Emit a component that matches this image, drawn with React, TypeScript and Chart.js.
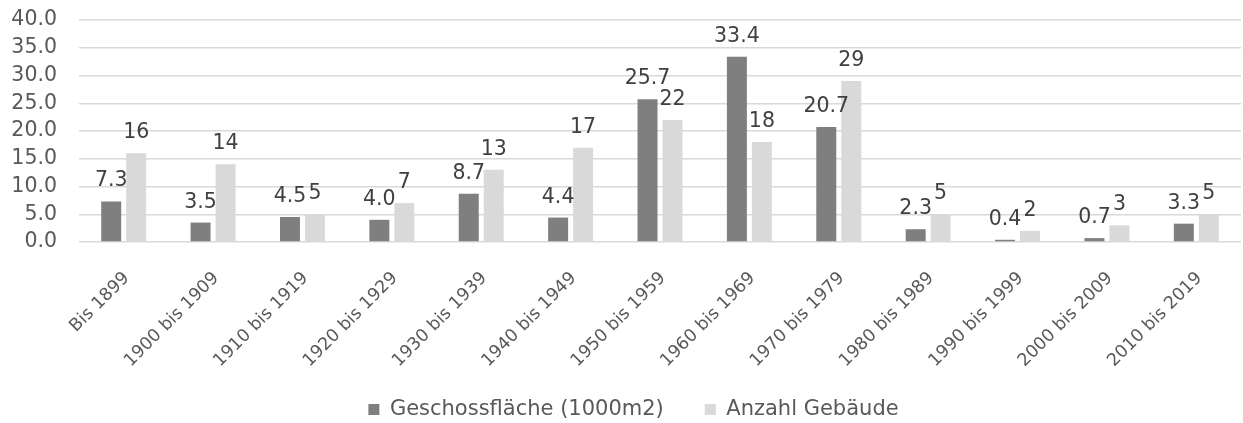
import React, { useEffect, useRef } from "react";
import { Chart, registerables } from "chart.js";

Chart.register(...registerables);

const categories = [
  "Bis 1899",
  "1900 bis 1909",
  "1910 bis 1919",
  "1920 bis 1929",
  "1930 bis 1939",
  "1940 bis 1949",
  "1950 bis 1959",
  "1960 bis 1969",
  "1970 bis 1979",
  "1980 bis 1989",
  "1990 bis 1999",
  "2000 bis 2009",
  "2010 bis 2019",
];

const geschossflaeche = [7.3, 3.5, 4.5, 4.0, 8.7, 4.4, 25.7, 33.4, 20.7, 2.3, 0.4, 0.7, 3.3];
const anzahlGebaeude = [16, 14, 5, 7, 13, 17, 22, 18, 29, 5, 2, 3, 5];

const seriesNames = ["Geschossfläche (1000m2)", "Anzahl Gebäude"];
const yTicks = [0, 5, 10, 15, 20, 25, 30, 35, 40];

const FONT = "'DejaVu Sans', sans-serif";
const TEXT = "#595959";
const LEGEND_H = 40;

const dataLabelPlugin = {
  id: "dataLabels",
  afterDatasetsDraw(chart: any) {
    const ctx = chart.ctx;
    ctx.save();
    ctx.font = `20.5px ${FONT}`;
    ctx.fillStyle = "#404040";
    ctx.textAlign = "center";
    ctx.textBaseline = "alphabetic";
    chart.data.datasets.forEach((ds: any, di: number) => {
      const meta = chart.getDatasetMeta(di);
      meta.data.forEach((bar: any, i: number) => {
        const v = ds.data[i];
        const txt = di === 0 ? v.toFixed(1) : String(v);
        ctx.fillText(txt, bar.x, bar.y - 15);
      });
    });
    ctx.restore();
  },
};

const legendShiftPlugin = {
  id: "legendShift",
  beforeLayout(chart: any) {
    const lg = chart.legend;
    if (lg && !lg.__patched) {
      const orig = lg.fit.bind(lg);
      lg.fit = function () {
        orig();
        this.height = LEGEND_H;
      };
      lg.__patched = true;
    }
  },
  afterLayout(chart: any) {
    const lg = chart.legend;
    if (!lg) return;
    const dx = 13;
    const dy = -25;
    lg.left += dx;
    lg.right += dx;
    lg.top += dy;
    lg.bottom = chart.height;
  },
};

export default function App() {
  const ref = useRef<HTMLCanvasElement>(null);
  useEffect(() => {
    if (!ref.current) return;
    const chart = new Chart(ref.current, {
      type: "bar",
      data: {
        labels: categories,
        datasets: [
          {
            label: seriesNames[0],
            data: geschossflaeche,
            backgroundColor: "#7f7f7f",
            categoryPercentage: 0.559,
            barPercentage: 0.8,
          },
          {
            label: seriesNames[1],
            data: anzahlGebaeude,
            backgroundColor: "#d9d9d9",
            categoryPercentage: 0.559,
            barPercentage: 0.8,
          },
        ],
      },
      options: {
        animation: false,
        responsive: false,
        maintainAspectRatio: false,
        layout: { padding: { top: 20, left: 0, right: 2, bottom: 0 } },
        plugins: {
          tooltip: { enabled: false },
          legend: {
            position: "bottom",
            labels: {
              font: { family: FONT, size: 21 },
              color: TEXT,
              boxWidth: 11,
              boxHeight: 11,
              padding: 41,
            },
          },
        },
        scales: {
          x: {
            grid: { display: false },
            border: { display: false },
            ticks: {
              font: { family: FONT, size: 17.5 },
              color: TEXT,
              minRotation: 45,
              maxRotation: 45,
              autoSkip: false,
              padding: 18,
              labelOffset: 3,
            },
            afterFit: (s: any) => {
              s.height = 423 - LEGEND_H - 242;
            },
          },
          y: {
            min: 0,
            max: 40,
            afterBuildTicks: (s: any) => {
              s.ticks = yTicks.map((v) => ({ value: v }));
            },
            grid: {
              color: "#d9d9d9",
              lineWidth: 1.5,
              drawTicks: true,
              tickLength: 22,
              tickColor: "rgba(0,0,0,0)",
            },
            border: { display: false },
            ticks: {
              font: { family: FONT, size: 20.5 },
              color: TEXT,
              padding: 0,
              autoSkip: false,
              callback: (v: any) => Number(v).toFixed(1),
            },
            afterFit: (s: any) => {
              s.width = 79;
            },
          },
        },
      },
      plugins: [dataLabelPlugin, legendShiftPlugin],
    });
    return () => chart.destroy();
  }, []);
  return (
    <div style={{ position: "fixed", left: 0, top: 0, width: 1243, height: 423, background: "#fff" }}>
      <canvas ref={ref} width={1243} height={423} style={{ display: "block", width: 1243, height: 423 }} />
    </div>
  );
}
